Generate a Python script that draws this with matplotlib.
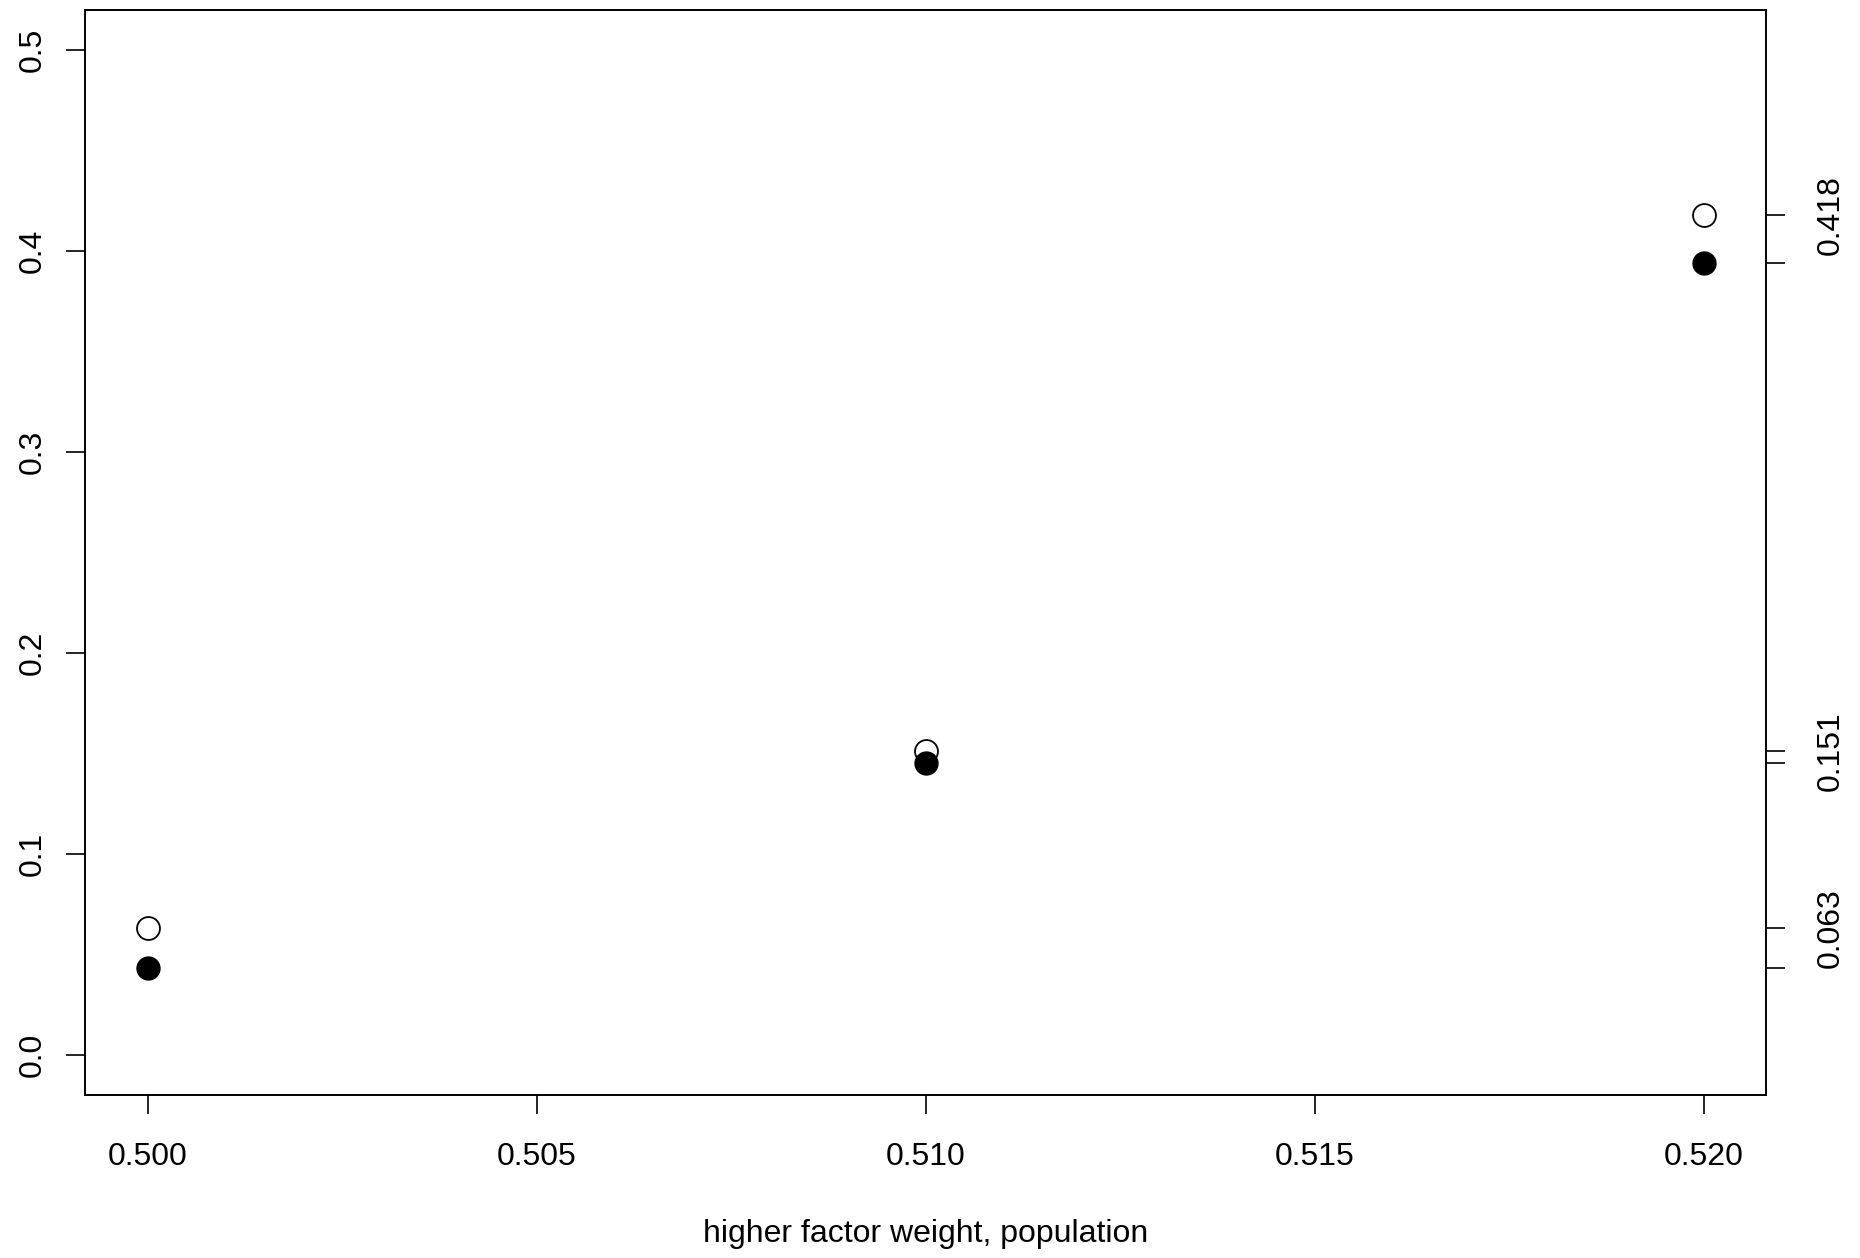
import matplotlib
matplotlib.use("Agg")
import matplotlib.pyplot as plt
from matplotlib.ticker import FormatStrFormatter

# values
weights = [0.500, 0.510, 0.520]
open_vals = [0.063, 0.151, 0.418]
filled_vals = [0.043, 0.145, 0.394]
right_labels = ["0.063", "0.151", "0.418"]

plt.rcParams['font.family'] = ['Liberation Sans', 'DejaVu Sans']
FS = 23
LW = 1.2

fig = plt.figure(figsize=(18.6, 12.58), dpi=100)
ax = fig.add_axes([0.0459, 0.1296, 0.9036, 0.8628])

ax.scatter(weights, open_vals, s=16.5**2, facecolors='white', edgecolors='black',
           linewidths=1.3, zorder=3)
ax.scatter(weights, filled_vals, s=16.5**2, facecolors='black', edgecolors='black',
           linewidths=1.0, zorder=3)

ax.set_xlim(0.5 - 0.0008, 0.52 + 0.0008)
ax.set_ylim(-0.02, 0.52)
ax.set_xticks([0.500, 0.505, 0.510, 0.515, 0.520])
ax.set_yticks([0.0, 0.1, 0.2, 0.3, 0.4, 0.5])
ax.xaxis.set_major_formatter(FormatStrFormatter('%.3f'))
ax.yaxis.set_major_formatter(FormatStrFormatter('%.1f'))

for sp in ax.spines.values():
    sp.set_linewidth(LW)

ax.tick_params(axis='both', direction='out', length=14, width=LW, labelsize=FS)
ax.tick_params(axis='x', pad=20)
ax.tick_params(axis='y', pad=13, labelrotation=90)
for lab in ax.get_yticklabels():
    lab.set_va('center')

ax.set_xlabel("higher factor weight, population", fontsize=FS)
ax.xaxis.set_label_coords(0.5, -0.1285)
ax.xaxis.label.set_va('center')

# right axis with a tick at every point value, labels for the open ones only
ax2 = ax.twinx()
ax2.set_ylim(ax.get_ylim())
ax2.set_yticks(sorted(open_vals + filled_vals))
labs = []
for v in sorted(open_vals + filled_vals):
    labs.append(right_labels[open_vals.index(v)] if v in open_vals else "")
ax2.set_yticklabels(labs)
ax2.tick_params(axis='y', direction='out', length=14, width=LW, labelsize=FS,
                pad=22, labelrotation=90)
for lab in ax2.get_yticklabels():
    lab.set_va('center')
for sp in ax2.spines.values():
    sp.set_linewidth(LW)

fig.savefig("out.png", dpi=100, facecolor='white')
